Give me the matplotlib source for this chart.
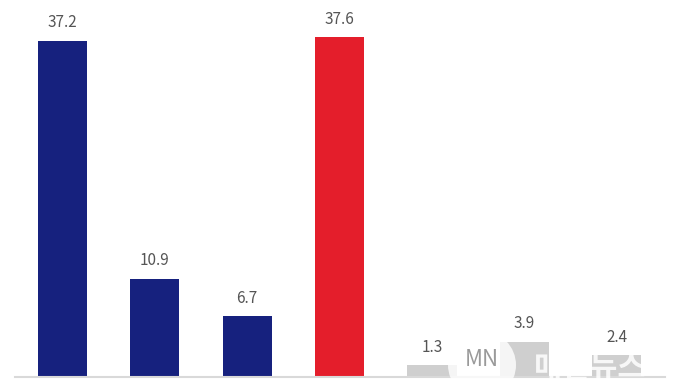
import matplotlib
matplotlib.use("Agg")
import matplotlib.pyplot as plt
from matplotlib.patches import Ellipse

plt.rcParams['font.family'] = ['Noto Sans CJK KR', 'DejaVu Sans']

categories = ["A", "B", "C", "D", "E", "F", "G"]
values = [37.2, 10.9, 6.7, 37.6, 1.3, 3.9, 2.4]
labels = ["37.2", "10.9", "6.7", "37.6", "1.3", "3.9", "2.4"]
colors = ["#16217e", "#16217e", "#16217e", "#e41e2b", "#cfcfcf", "#cfcfcf", "#cfcfcf"]

fig = plt.figure(figsize=(6.8, 3.83), dpi=100)
ax = fig.add_axes([15/680, 6/383, 650/680, 377/383])
x = list(range(len(categories)))
bars = ax.bar(x, values, width=0.53, color=colors, zorder=2)
for b, lab in zip(bars, labels):
    ax.annotate(lab, (b.get_x() + b.get_width()/2, b.get_height()),
                xytext=(0, 7), textcoords="offset points", ha="center", va="bottom",
                fontsize=11, color="#555555")
ax.set_xlim(-0.51, 6.52)
ax.set_ylim(0, 41.75)
for s in ["top", "right", "left"]:
    ax.spines[s].set_visible(False)
ax.spines["bottom"].set_color("#d9d9d9")
ax.spines["bottom"].set_linewidth(1.5)
ax.set_xticks([])
ax.set_yticks([])

# watermark
fig.patches.append(Ellipse((482/680, 1 - 365/383), 68/680, 68/383, transform=fig.transFigure,
                           facecolor="white", edgecolor="none", alpha=0.8, zorder=5))
fig.text(482/680, 1 - 360/383, "MN", ha="center", va="center", fontsize=16,
         color="#9a9a9a", zorder=6)
fig.text(590/680, 1 - 368/383, "매일뉴스", ha="center", va="center", fontsize=22,
         color="white", alpha=0.85, zorder=6, fontweight="bold")

fig.savefig("out.png", dpi=100)
